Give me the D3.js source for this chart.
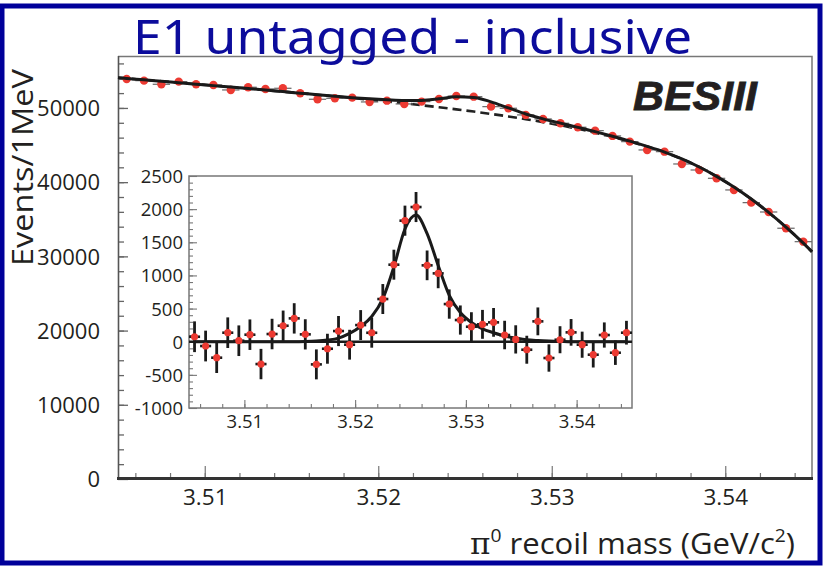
<!DOCTYPE html>
<html><head><meta charset="utf-8">
<script src="https://cdn.jsdelivr.net/npm/d3@7"></script>
<style>body{margin:0;background:#fff;} svg{display:block;}</style>
</head><body><svg id="c" width="823" height="566"></svg>
<script>
// ---- data ----
const binCenters = [3.5055,3.5065,3.5075,3.5085,3.5095,3.5105,3.5115,3.5125,3.5135,3.5145,
  3.5155,3.5165,3.5175,3.5185,3.5195,3.5205,3.5215,3.5225,3.5235,3.5245,
  3.5255,3.5265,3.5275,3.5285,3.5295,3.5305,3.5315,3.5325,3.5335,3.5345,
  3.5355,3.5365,3.5375,3.5385,3.5395,3.5405,3.5415,3.5425,3.5435,3.5445];
const mainCounts = [53908,53680,53190,53545,53190,53100,52425,52790,52560,52650,
  51980,51170,51300,51390,50810,50980,50540,50850,51210,51600,
  51520,50175,49960,49060,48520,47940,47400,46940,46230,45460,
  44340,44110,42450,41640,40520,38950,37240,35980,33790,31980];
const mainBackground = [53976,53785,53593,53399,53205,53008,52810,52610,52407,52201,
  51991,51778,51559,51335,51105,50867,50620,50364,50095,49812,
  49513,49195,48855,48489,48093,47661,47189,46669,46093,45470,
  44790,44030,43120,42040,40780,39340,37720,35920,33940,31780];
const backgroundEdges = [54071, 30620];   // at 3.505 and 3.545
const insetCounts = [75,-65,-241,136,15,106,-337,116,241,352,
  111,-342,-106,161,-45,251,135,644,1162,1826,
  2032,1152,1031,568,327,226,262,292,101,35,
  -121,307,-246,30,141,-45,-196,101,-166,136];
const countErrors = [232,232,231,231,231,230,229,230,229,229,
  228,226,226,227,225,226,225,226,226,227,
  227,224,224,221,220,219,218,217,215,213,
  211,210,206,204,201,197,193,190,184,179];
const signalFit = [0,0,0,0,0,0,0,0,0,0,
  3,10,25,55,125,230,380,650,1130,1700,
  1910,1630,1150,700,440,290,195,135,85,55,
  30,18,10,5,0,0,0,0,0,0];
const massRange = [3.505, 3.545];
const massTicks = [3.51, 3.52, 3.53, 3.54];
const mainYTicks = [0, 10000, 20000, 30000, 40000, 50000];
const insetYTicks = [-1000, -500, 0, 500, 1000, 1500, 2000, 2500];
const binWidth = 0.001;

// ---- drawing ----
const svg = d3.select("#c");
const FONT = "'Open Sans', Lato, sans-serif";
const TXT = "#231f20";
svg.append("rect").attr("width",823).attr("height",566).attr("fill","#fff");

const xM = d3.scaleLinear().domain(massRange).range([118, 812]);
const yM = d3.scaleLinear().domain([0, 57000]).range([479, 56]);
const xI = d3.scaleLinear().domain(massRange).range([189, 632]);
const yI = d3.scaleLinear().domain([-1000, 2500]).range([408, 176]);

const minorMass = d3.range(3.506, 3.5449, 0.002);
const plain = d => String(d);

svg.append("path").attr("d", `M118,56.5H812V479`).attr("fill","none").attr("stroke","#777").attr("stroke-width",1.5);

function styleAxis(g, color, width){
  g.select(".domain").remove();
  g.selectAll("line").attr("stroke", color).attr("stroke-width", width);
  g.selectAll("text").attr("fill", TXT).attr("font-family", FONT);
}

// main y axis
const gyM = svg.append("g").attr("transform","translate(118,0)");
gyM.append("g").call(d3.axisLeft(yM).tickValues(d3.range(2000, 57000, 2000)).tickSize(-6).tickFormat(""))
  .call(g=>styleAxis(g,"#666",1.3));
gyM.append("g").call(d3.axisLeft(yM).tickValues(mainYTicks).tickSize(-10).tickPadding(18).tickFormat(plain))
  .call(g=>{styleAxis(g,"#666",1.3); g.selectAll("text").attr("font-size",22).attr("dy","0.35em");});
svg.append("line").attr("x1",118.5).attr("x2",118.5).attr("y1",56).attr("y2",479).attr("stroke","#555").attr("stroke-width",1.6);

// main x axis
const gxM = svg.append("g").attr("transform","translate(0,479)");
gxM.append("g").call(d3.axisBottom(xM).tickValues(minorMass).tickSize(-6).tickFormat(""))
  .call(g=>styleAxis(g,"#777",1.2));
gxM.append("g").call(d3.axisBottom(xM).tickValues(massTicks).tickSize(-13).tickPadding(10).tickFormat(d3.format(".2f")))
  .call(g=>{styleAxis(g,"#777",1.2); g.selectAll("text").attr("font-size",22.5);});
svg.append("line").attr("x1",117).attr("x2",813).attr("y1",478.5).attr("y2",478.5).attr("stroke","#333").attr("stroke-width",3);

// main fit curves
const fitMass = [massRange[0], ...binCenters, massRange[1]];
const bgVals = [backgroundEdges[0], ...mainBackground, backgroundEdges[1]];
const totVals = [backgroundEdges[0], ...mainBackground.map((b,i)=>b+signalFit[i]), backgroundEdges[1]];
const lineM = d3.line().x(d=>xM(d[0])).y(d=>yM(d[1])).curve(d3.curveMonotoneX);
svg.append("path").attr("d", lineM(fitMass.map((m,i)=>[m,bgVals[i]])))
  .attr("fill","none").attr("stroke","#222").attr("stroke-width",2.6).attr("stroke-dasharray","9,5");
const gE = svg.append("g").attr("stroke","#666").attr("stroke-width",1.2);
binCenters.forEach((m,i)=>{
  gE.append("line").attr("x1",xM(m-binWidth/2)).attr("x2",xM(m+binWidth/2)).attr("y1",yM(mainCounts[i])).attr("y2",yM(mainCounts[i]));
  gE.append("line").attr("x1",xM(m)).attr("x2",xM(m)).attr("y1",yM(mainCounts[i]-countErrors[i])).attr("y2",yM(mainCounts[i]+countErrors[i]));
});
svg.append("g").selectAll("circle").data(binCenters).join("circle")
  .attr("cx",d=>xM(d)).attr("cy",(d,i)=>yM(mainCounts[i])).attr("r",4.2).attr("fill","#ec3a32");
svg.append("path").attr("d", lineM(fitMass.map((m,i)=>[m,totVals[i]])))
  .attr("fill","none").attr("stroke","#1a1a1a").attr("stroke-width",3);

// ---- inset ----
svg.append("rect").attr("x",189).attr("y",176).attr("width",443).attr("height",232)
  .attr("fill","#fff").attr("stroke","#777").attr("stroke-width",1.5);
const gyI = svg.append("g").attr("transform","translate(189,0)");
gyI.append("g").call(d3.axisLeft(yI).tickValues(d3.range(-900, 2500, 100)).tickSize(-4).tickFormat(""))
  .call(g=>styleAxis(g,"#777",1.1));
gyI.append("g").call(d3.axisLeft(yI).tickValues(insetYTicks).tickSize(-8).tickPadding(6).tickFormat(plain))
  .call(g=>{styleAxis(g,"#777",1.1); g.selectAll("text").attr("font-size",18.5).attr("dy","0.35em");});
const gxI = svg.append("g").attr("transform","translate(0,408)");
gxI.append("g").call(d3.axisBottom(xI).tickValues(minorMass).tickSize(-4).tickFormat(""))
  .call(g=>styleAxis(g,"#777",1.1));
gxI.append("g").call(d3.axisBottom(xI).tickValues(massTicks).tickSize(-8).tickPadding(7).tickFormat(d3.format(".2f")))
  .call(g=>{styleAxis(g,"#777",1.1); g.selectAll("text").attr("font-size",18.5);});

svg.append("line").attr("x1",xI(massRange[0])).attr("x2",xI(massRange[1])).attr("y1",yI(0)).attr("y2",yI(0))
  .attr("stroke","#1a1a1a").attr("stroke-width",2.6);
const gIE = svg.append("g").attr("stroke","#1a1a1a");
binCenters.forEach((m,i)=>{
  gIE.append("line").attr("x1",xI(m-binWidth/2)).attr("x2",xI(m+binWidth/2)).attr("y1",yI(insetCounts[i])).attr("y2",yI(insetCounts[i])).attr("stroke-width",2.6);
  gIE.append("line").attr("x1",xI(m)).attr("x2",xI(m)).attr("y1",yI(insetCounts[i]-countErrors[i])).attr("y2",yI(insetCounts[i]+countErrors[i])).attr("stroke-width",2.8);
});
const lineI = d3.line().x(d=>xI(d[0])).y(d=>yI(d[1])).curve(d3.curveMonotoneX);
svg.append("path").attr("d", lineI(binCenters.map((m,i)=>[m,signalFit[i]])))
  .attr("fill","none").attr("stroke","#1a1a1a").attr("stroke-width",3);
svg.append("g").selectAll("circle").data(binCenters).join("circle")
  .attr("cx",d=>xI(d)).attr("cy",(d,i)=>yI(insetCounts[i])).attr("r",3.6).attr("fill","#ec3a32");

// ---- texts ----
svg.append("text").attr("transform","translate(33,266) rotate(-90)")
  .attr("font-family",FONT).attr("font-size",29).attr("fill",TXT)
  .attr("textLength",197).attr("lengthAdjust","spacingAndGlyphs").text("Events/1MeV");
const xt = svg.append("text").attr("x",795).attr("y",554).attr("text-anchor","end")
  .attr("font-family",FONT).attr("font-size",29).attr("fill",TXT)
  .attr("textLength",325).attr("lengthAdjust","spacingAndGlyphs");
xt.append("tspan").attr("font-family","'DejaVu Serif', serif").text("π");
xt.append("tspan").attr("font-size",18).attr("dy",-12).text("0");
xt.append("tspan").attr("dy",12).text(" recoil mass (GeV/c");
xt.append("tspan").attr("font-size",18).attr("dy",-12).text("2");
xt.append("tspan").attr("dy",12).text(")");
svg.append("text").attr("x",633).attr("y",110)
  .attr("font-family","'Liberation Sans', Arial, sans-serif").attr("font-weight","bold").attr("font-style","italic")
  .attr("font-size",40).attr("fill",TXT).attr("stroke",TXT).attr("stroke-width",0.8)
  .attr("textLength",124).attr("lengthAdjust","spacingAndGlyphs").text("BESIII");
svg.append("text").attr("x",133).attr("y",54)
  .attr("font-family","'Comic Sans MS', 'Noto Sans', sans-serif").attr("font-size",48).attr("fill","#0c0c9c")
  .attr("textLength",559).attr("lengthAdjust","spacingAndGlyphs").text("E1 untagged - inclusive");

svg.append("rect").attr("x",2).attr("y",6).attr("width",818).attr("height",557)
  .attr("fill","none").attr("stroke","#00009a").attr("stroke-width",5);
</script></body></html>
